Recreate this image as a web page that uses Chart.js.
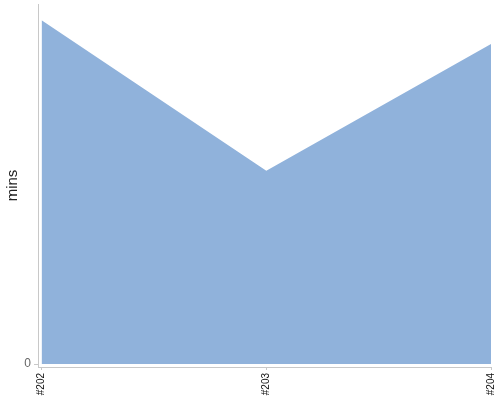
<!DOCTYPE html>
<html><head><meta charset="utf-8">
<script src="https://cdn.jsdelivr.net/npm/chart.js@4/dist/chart.umd.min.js"></script>
<style>html,body{margin:0;padding:0;background:#fff}#w{width:500px;height:400px}</style>
</head><body><div id="w"><canvas id="c"></canvas></div>
<script>
const categories = ["#202", "#203", "#204"];
const minsValues = [95.5, 53.7, 88.9];
const yTickValues = [0];

const pts = minsValues.map((v, i) => ({x: i, y: v}));
new Chart(document.getElementById('c'), {
  type: 'line',
  data: { datasets: [{
    data: pts, fill: 'origin', backgroundColor: '#90b2db', borderWidth: 0,
    borderColor: 'rgba(0,0,0,0)', pointRadius: 0, tension: 0
  }]},
  options: {
    responsive: true, maintainAspectRatio: false, animation: false,
    layout: { padding: { top: 4, right: 9, left: 0, bottom: 0 } },
    plugins: { legend: { display: false }, tooltip: { enabled: false } },
    scales: {
      x: {
        type: 'linear', min: -0.016, max: 2,
        afterBuildTicks: s => { s.ticks = categories.map((c, i) => ({value: i})); },
        afterFit: s => { s.height = 33; s.paddingLeft = 0; s.paddingRight = 0; },
        grid: { display: true, drawOnChartArea: false, drawTicks: true, tickLength: 3, color: '#c8c8c8' },
        border: { display: true, color: '#c8c8c8', width: 1 },
        ticks: { minRotation: 90, maxRotation: 90, padding: 3, color: '#111',
          font: { family: 'Arial, "Liberation Sans"', size: 10 },
          callback: v => categories[v] }
      },
      y: {
        min: -0.83, max: 100,
        afterBuildTicks: s => { s.ticks = yTickValues.map(v => ({value: v})); },
        afterFit: s => { s.width = 38; s.paddingTop = 0; s.paddingBottom = 0; },
        grid: { display: true, drawOnChartArea: false, drawTicks: true, tickLength: 4, color: '#c8c8c8' },
        border: { display: true, color: '#c8c8c8', width: 1 },
        title: { display: true, text: 'mins', color: '#222', padding: { top: 4, bottom: 0 },
          font: { family: 'Arial, "Liberation Sans"', size: 15 } },
        ticks: { color: '#666', padding: 3, font: { family: 'Arial, "Liberation Sans"', size: 12 } }
      }
    }
  }
});
</script></body></html>
